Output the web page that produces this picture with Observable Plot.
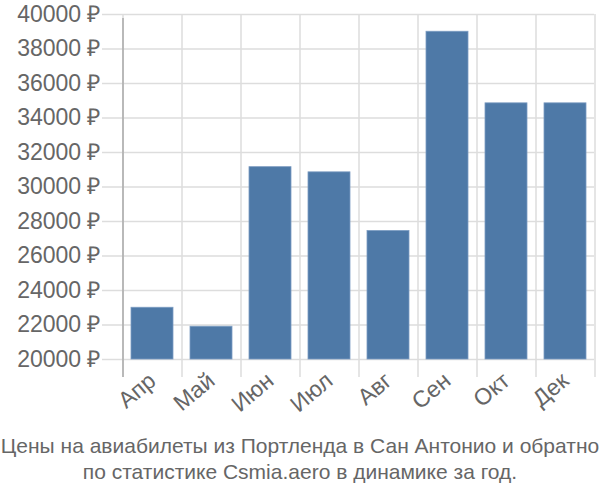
<!DOCTYPE html>
<html>
<head>
<meta charset="utf-8">
<script src="https://cdn.jsdelivr.net/npm/d3@7"></script>
<script src="https://cdn.jsdelivr.net/npm/@observablehq/plot@0.6"></script>
<style>
  html, body { margin: 0; padding: 0; background: #fff; }
  #chart { width: 600px; }
  .caption { font-family: "Liberation Sans", Arial, sans-serif; font-size: 21px; line-height: 26px; color: #666; text-align: center; margin-top: 8px; white-space: nowrap; }
</style>
</head>
<body>
<div id="chart"></div>
<script>
const months = ["Апр", "Май", "Июн", "Июл", "Авг", "Сен", "Окт", "Дек"];
const prices = [23000, 21900, 31150, 30850, 27450, 39000, 34850, 34850];
const yTicks = [20000, 22000, 24000, 26000, 28000, 30000, 32000, 34000, 36000, 38000, 40000];
const captionLines = [
  "Цены на авиабилеты из Портленда в Сан Антонио и обратно",
  "по статистике Csmia.aero в динамике за год."
];

const data = months.map((m, i) => ({month: m, price: prices[i]}));

const W = 600, H = 425, mL = 122, mR = 6, mT = 14, mB = 66;
const step = (W - mL - mR) / months.length;

const chart = Plot.plot({
  width: W, height: H,
  marginLeft: mL, marginRight: mR, marginTop: mT, marginBottom: mB,
  style: {fontFamily: "'Liberation Sans', Arial, sans-serif", color: "#666", background: "#fff"},
  x: {domain: months, paddingInner: 0.29, paddingOuter: 0.145, axis: null, label: null},
  y: {domain: [20000, 40000], axis: null, label: null},
  marks: [
    Plot.ruleY(yTicks, {stroke: "#ddd", strokeWidth: 1.5, insetLeft: -20}),
    Plot.ruleX(months, {stroke: "#ddd", strokeWidth: 1.5, dx: -step / 2, insetBottom: -18}),
    Plot.ruleX([months[months.length - 1]], {stroke: "#ddd", strokeWidth: 1.5, dx: step / 2, insetBottom: -18}),
    Plot.ruleX([months[0]], {stroke: "#aaa", strokeWidth: 1.5, dx: -step / 2, insetBottom: -18, insetTop: 4}),
    Plot.barY(data, {x: "month", y1: 20000, y2: "price", fill: "#4e79a7", stroke: "#7c9cc2", strokeWidth: 0.8}),
    Plot.axisY(yTicks, {tickSize: 0, tickPadding: 22, fontSize: 23, label: null, tickFormat: d => d + " ₽"}),
    Plot.axisX({tickSize: 0, tickPadding: 18, tickRotate: -40, fontSize: 23, label: null})
  ]
});
document.getElementById("chart").appendChild(chart);

const cap = document.createElement("div");
cap.className = "caption";
cap.innerHTML = captionLines.map(s => `<div>${s}</div>`).join("");
document.getElementById("chart").appendChild(cap);
</script>
</body>
</html>
